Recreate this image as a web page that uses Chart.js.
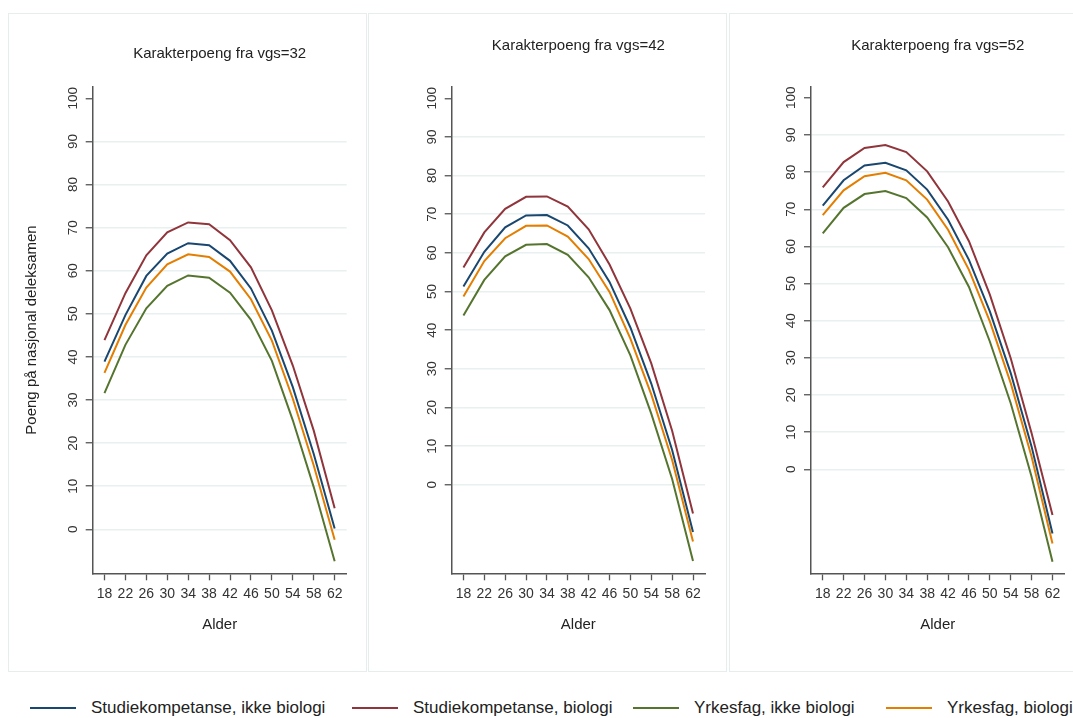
<!DOCTYPE html>
<html>
<head>
<meta charset="utf-8">
<title>Poeng på nasjonal deleksamen etter alder</title>
<script src="https://cdn.jsdelivr.net/npm/chart.js@4.4.0/dist/chart.umd.min.js"></script>
<style>
  html, body { margin: 0; padding: 0; background: #fff; overflow: hidden; }
  body { position: relative; width: 1073px; height: 718px; font-family: "Liberation Sans", Arial, sans-serif; }
  .frame { position: absolute; top: 13px; height: 659px; border: 1px solid #e6eded; box-sizing: border-box; }
  canvas { position: absolute; top: 13px; }
  .legend-item { position: absolute; top: 698px; height: 20px; display: flex; align-items: center;
                 font-size: 17px; color: #222; white-space: nowrap; }
  .legend-item .swatch { display: inline-block; width: 46px; height: 2.5px; margin-right: 15px; }
</style>
</head>
<body>
<div id="panels"></div>
<div id="legend"></div>

<script>
// --- Data ---
const ages = [18, 22, 26, 30, 34, 38, 42, 46, 50, 54, 58, 62];
const yTicks = [0, 10, 20, 30, 40, 50, 60, 70, 80, 90, 100];
const vgsLevels = [32, 42, 52];

const seriesNames = [
    'Studiekompetanse, ikke biologi',
    'Studiekompetanse, biologi',
    'Yrkesfag, ikke biologi',
    'Yrkesfag, biologi'
];
const seriesColors = ['#1a476f', '#90353b', '#55752f', '#e37e00'];

// Karakterpoeng fra vgs=32
const vgs32StudIkkeBio = [38.9, 49.7, 58.8, 64.0, 66.4, 65.9, 62.3, 55.9, 46.1, 33.0, 17.5, 0.2];
const vgs32StudBio     = [43.9, 54.8, 63.6, 68.9, 71.2, 70.8, 67.1, 60.8, 50.8, 38.0, 22.9, 4.9];
const vgs32YrkIkkeBio  = [31.6, 42.8, 51.3, 56.5, 58.9, 58.4, 54.9, 48.6, 39.1, 25.3, 9.8, -7.4];
const vgs32YrkBio      = [36.3, 47.4, 56.1, 61.5, 63.8, 63.2, 59.8, 53.4, 43.8, 30.3, 14.8, -2.4];

// Karakterpoeng fra vgs=42
const vgs42StudIkkeBio = [51.3, 60.3, 66.6, 69.7, 69.8, 67.1, 61.2, 52.5, 40.7, 26.2, 9.0, -12.2];
const vgs42StudBio     = [56.2, 65.3, 71.4, 74.5, 74.6, 72.0, 66.1, 57.0, 45.6, 31.4, 14.0, -7.4];
const vgs42YrkIkkeBio  = [43.8, 53.0, 59.1, 62.1, 62.3, 59.5, 53.7, 45.2, 33.5, 18.4, 1.5, -19.7];
const vgs42YrkBio      = [48.7, 57.9, 63.8, 67.0, 67.1, 64.2, 58.4, 49.9, 37.8, 23.4, 6.4, -14.7];

// Karakterpoeng fra vgs=52
const vgs52StudIkkeBio = [71.0, 77.8, 81.8, 82.5, 80.5, 75.3, 67.2, 56.4, 42.5, 25.9, 6.1, -17.3];
const vgs52StudBio     = [75.9, 82.7, 86.5, 87.3, 85.4, 80.2, 72.1, 61.4, 47.0, 29.9, 9.7, -12.3];
const vgs52YrkIkkeBio  = [63.5, 70.4, 74.1, 74.9, 73.0, 67.8, 59.8, 49.1, 34.4, 17.8, -2.0, -24.9];
const vgs52YrkBio      = [68.4, 75.1, 78.9, 79.8, 77.8, 72.6, 64.5, 53.7, 39.8, 23.2, 3.4, -20.0];

const panelSeries = [
    [vgs32StudIkkeBio, vgs32StudBio, vgs32YrkIkkeBio, vgs32YrkBio],
    [vgs42StudIkkeBio, vgs42StudBio, vgs42YrkIkkeBio, vgs42YrkBio],
    [vgs52StudIkkeBio, vgs52StudBio, vgs52YrkIkkeBio, vgs52YrkBio]
];

// axis ranges per panel (y), shared x range
const yMin = [-10.2, -22.9, -28];
const yMax = [102.7, 103, 103];
const X_MIN = 15.75;
const X_MAX = 64.3;

// --- Layout (canvas pixels) ---
const CANVAS_H = 659;
const PLOT_TOP = 73.7;
const PLOT_BOTTOM = 560.3;
const panels = [
    { left: 8,   width: 359, plotLeft: 84.7, padRight: 20.3, titleY: 41 },
    { left: 368, width: 359, plotLeft: 83.7, padRight: 22,   titleY: 33 },
    { left: 729, width: 357, plotLeft: 82,   padRight: 21.5, titleY: 33 }
];

const AXIS_COLOR = '#555';
const GRID_COLOR = '#e9f0f0';
const TEXT_COLOR = '#222';

Chart.defaults.font.family = '"Liberation Sans", Arial, sans-serif';

function buildPanel(idx) {
    const p = panels[idx];

    const frame = document.createElement('div');
    frame.className = 'frame';
    frame.style.left = p.left + 'px';
    frame.style.width = p.width + 'px';
    document.getElementById('panels').appendChild(frame);

    const canvas = document.createElement('canvas');
    canvas.width = p.width;
    canvas.height = CANVAS_H;
    canvas.style.left = p.left + 'px';
    document.getElementById('panels').appendChild(canvas);

    const datasets = seriesNames.map((name, s) => ({
        label: name,
        data: ages.map((a, i) => ({ x: a, y: panelSeries[idx][s][i] })),
        borderColor: seriesColors[s],
        backgroundColor: seriesColors[s],
        borderWidth: 2,
        pointRadius: 0,
        tension: 0,
        fill: false
    }));

    const titleTop = p.titleY - 9;

    return new Chart(canvas, {
        type: 'line',
        data: { datasets: datasets },
        options: {
            responsive: false,
            animation: false,
            events: [],
            layout: { padding: { left: 0, top: 0, right: p.padRight, bottom: 0 } },
            plugins: {
                legend: { display: false },
                tooltip: { enabled: false },
                title: {
                    display: true,
                    fullSize: false, // centre over the plot area, not the whole canvas
                    text: 'Karakterpoeng fra vgs=' + vgsLevels[idx],
                    color: TEXT_COLOR,
                    font: { size: 15, weight: 'normal' },
                    padding: { top: titleTop, bottom: PLOT_TOP - titleTop - 18 }
                }
            },
            scales: {
                x: {
                    type: 'linear',
                    min: X_MIN,
                    max: X_MAX,
                    afterBuildTicks: (axis) => { axis.ticks = ages.map(v => ({ value: v })); },
                    afterFit: (axis) => { axis.height = CANVAS_H - PLOT_BOTTOM; },
                    ticks: {
                        color: '#333',
                        font: { size: 14 },
                        padding: 5,
                        autoSkip: false,
                        minRotation: 0,
                        maxRotation: 0
                    },
                    grid: { drawOnChartArea: false, drawTicks: true, tickLength: 7, tickColor: AXIS_COLOR, tickWidth: 1.3 },
                    border: { display: true, color: AXIS_COLOR, width: 1.5 },
                    title: {
                        display: true,
                        text: 'Alder',
                        color: TEXT_COLOR,
                        font: { size: 15 },
                        padding: { top: 0, bottom: 38 }
                    }
                },
                y: {
                    type: 'linear',
                    min: yMin[idx],
                    max: yMax[idx],
                    afterBuildTicks: (axis) => { axis.ticks = yTicks.map(v => ({ value: v })); },
                    afterFit: (axis) => { axis.width = p.plotLeft; },
                    ticks: {
                        color: '#333',
                        font: { size: 13.5 },
                        padding: 1,
                        minRotation: 90,
                        maxRotation: 90,
                        crossAlign: 'center'
                    },
                    grid: {
                        color: (ctx) => (ctx.tick && ctx.tick.value === 100) ? 'rgba(0,0,0,0)' : GRID_COLOR,
                        lineWidth: 1.5,
                        drawTicks: true,
                        tickLength: 7,
                        tickColor: AXIS_COLOR,
                        tickWidth: 1.3
                    },
                    border: { display: true, color: AXIS_COLOR, width: 1.5 },
                    title: {
                        display: idx === 0,
                        text: 'Poeng på nasjonal deleksamen',
                        color: TEXT_COLOR,
                        font: { size: 15 },
                        padding: { top: 15, bottom: 0 }
                    }
                }
            }
        }
    });
}

function buildLegend() {
    const lefts = [30, 352, 633, 886];
    const box = document.getElementById('legend');
    seriesNames.forEach((name, s) => {
        const item = document.createElement('div');
        item.className = 'legend-item';
        item.style.left = lefts[s] + 'px';
        const sw = document.createElement('span');
        sw.className = 'swatch';
        sw.style.background = seriesColors[s];
        const label = document.createElement('span');
        label.textContent = name;
        item.appendChild(sw);
        item.appendChild(label);
        box.appendChild(item);
    });
}

vgsLevels.forEach((v, i) => buildPanel(i));
buildLegend();
</script>
</body>
</html>
